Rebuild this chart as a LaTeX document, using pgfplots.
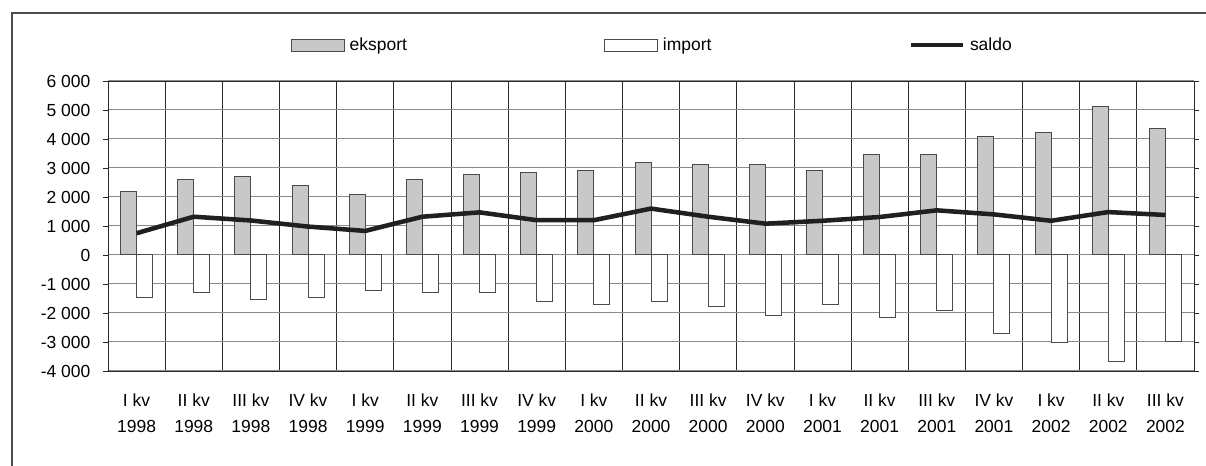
\documentclass[border=0pt]{standalone}
\usepackage{fontspec}
\setmainfont{Liberation Sans}
\usepackage{pgfplots}
\pgfplotsset{compat=1.18}
\definecolor{expfill}{HTML}{C8C8C8}
\definecolor{barline}{HTML}{4A4A4A}
\definecolor{saldoc}{HTML}{231F20}
\definecolor{hgrid}{HTML}{8A8A8A}
\definecolor{vgrid}{HTML}{2A2A2A}
\begin{document}
\begin{tikzpicture}[font=\fontsize{13.1}{19.5}\selectfont]
\begin{axis}[
  at={(0pt,0pt)}, anchor=south west,
  scale only axis,
  width=814.5pt, height=217.5pt,
  xmin=-0.5, xmax=18.5,
  ymin=-4000, ymax=6000,
  ytick={-4000,-3000,...,6000},
  yticklabels={-4 000,-3 000,-2 000,-1 000,0,1 000,2 000,3 000,4 000,5 000,6 000},
  xtick={0,...,18},
  xticklabels={I kv\\1998,II kv\\1998,III kv\\1998,IV kv\\1998,I kv\\1999,II kv\\1999,III kv\\1999,IV kv\\1999,I kv\\2000,II kv\\2000,III kv\\2000,IV kv\\2000,I kv\\2001,II kv\\2001,III kv\\2001,IV kv\\2001,I kv\\2002,II kv\\2002,III kv\\2002},
  minor xtick={-0.5,0.5,...,18.5},
  xmajorgrids=false, xminorgrids=true, ymajorgrids=true,
  major grid style={draw=hgrid, line width=0.75pt},
  minor grid style={draw=vgrid, line width=0.6pt},
  axis line style={draw=vgrid, line width=0.6pt},
  xtick style={draw=none},
  ytick style={draw=vgrid, line width=0.6pt},
  tick align=outside,
  major tick length=3.75pt,
  xticklabel style={align=center, inner sep=0pt, anchor=north, yshift=-13.5pt},
  yticklabel style={anchor=east, inner sep=0pt, xshift=-9.3pt},
  legend columns=3,
  legend style={draw=none, fill=none, inner sep=0pt, outer sep=0pt,
    at={(0.1685,1.1241)}, anchor=west,
    nodes={inner sep=0pt, anchor=west},
    /tikz/every odd column/.append style={column sep=3.5pt},
    /tikz/every even column/.append style={column sep=148pt}},
]
\addplot[ybar, bar width=12pt, bar shift=-6pt, fill=expfill, draw=barline, line width=0.75pt,
  legend image code/.code={\draw[fill=expfill, draw=barline, line width=0.75pt] (0pt,-4.5pt) rectangle (39.75pt,4.5pt);}]
coordinates {(0,2200)(1,2620)(2,2690)(3,2410)(4,2070)(5,2620)(6,2760)(7,2840)(8,2900)(9,3180)(10,3110)(11,3110)(12,2900)(13,3460)(14,3460)(15,4080)(16,4220)(17,5110)(18,4360)};
\addlegendentry{eksport}
\addplot[ybar, bar width=12pt, bar shift=6pt, fill=white, draw=barline, line width=0.75pt,
  legend image code/.code={\draw[fill=white, draw=barline, line width=0.75pt] (0pt,-4.5pt) rectangle (39.75pt,4.5pt);}]
coordinates {(0,-1450)(1,-1310)(2,-1520)(3,-1450)(4,-1240)(5,-1310)(6,-1310)(7,-1590)(8,-1710)(9,-1590)(10,-1790)(11,-2070)(12,-1710)(13,-2140)(14,-1930)(15,-2690)(16,-3030)(17,-3660)(18,-2970)};
\addlegendentry{import}
\addplot[draw=saldoc, line width=3.4pt, line join=round, mark=none,
  legend image code/.code={\draw[draw=saldoc, line width=3.4pt] (0pt,0pt) -- (39pt,0pt);}]
coordinates {(0,750)(1,1320)(2,1190)(3,980)(4,830)(5,1320)(6,1470)(7,1200)(8,1200)(9,1600)(10,1320)(11,1080)(12,1180)(13,1310)(14,1540)(15,1400)(16,1180)(17,1480)(18,1380)};
\addlegendentry{saldo}
\end{axis}
\draw[draw=black!70, line width=1.1pt] (-72pt,-120pt) |- (900pt,268.5pt);
\pgfresetboundingbox
\useasboundingbox (-81pt,-71.25pt) rectangle (823.5pt,278.25pt);
\end{tikzpicture}
\end{document}
